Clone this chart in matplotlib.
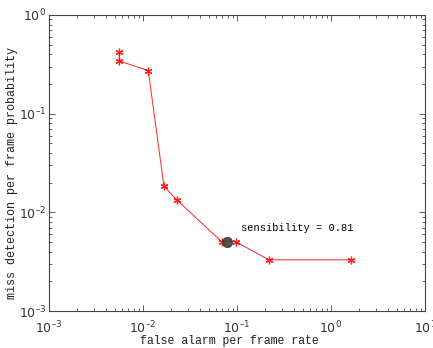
import matplotlib
matplotlib.use("Agg")
import matplotlib.pyplot as plt
from matplotlib.ticker import LogLocator, FixedLocator

false_alarm = [0.0056, 0.0056, 0.0114, 0.0167, 0.0228, 0.0687, 0.0968, 0.219, 1.63]
miss_detect = [0.42, 0.342, 0.273, 0.0185, 0.0134, 0.00505, 0.00505, 0.0033, 0.0033]
op_x = [0.0776]
op_y = [0.00505]
op_label = "sensibility = 0.81"
x_ticks = [1e-3, 1e-2, 1e-1, 1e0, 1e1]
x_ticklabels = ["$10^{\u20133}$", "$10^{\u20132}$", "$10^{\u20131}$", "$10^{0}$", "$10^{1}$"]
y_ticks = [1e-3, 1e-2, 1e-1, 1e0]
y_ticklabels = ["$10^{\u20133}$", "$10^{\u20132}$", "$10^{\u20131}$", "$10^{0}$"]

plt.rcParams['mathtext.fontset'] = 'custom'
plt.rcParams['mathtext.rm'] = 'Liberation Sans Narrow'
plt.rcParams['mathtext.it'] = 'Liberation Sans Narrow'
plt.rcParams['mathtext.sf'] = 'Liberation Sans Narrow'

fig = plt.figure(figsize=(4.33, 3.48), dpi=100)
ax = fig.add_axes([0.113, 0.1063, 0.8685, 0.8507])
ax.set_xscale('log')
ax.set_yscale('log')
ax.plot(false_alarm, miss_detect, color='#ff0000', lw=0.7, marker=(6, 2, 0), ms=5.5,
        markeredgewidth=0.9, alpha=0.85)
ax.plot(op_x, op_y, 'o', color='#404040', ms=7, alpha=0.9, zorder=3)
ax.text(0.11, 0.00695, op_label, family='Liberation Mono', fontsize=7.5, va='center')
ax.set_xlim(1e-3, 1e1)
ax.set_ylim(1e-3, 1e0)
ax.xaxis.set_major_locator(FixedLocator(x_ticks))
ax.set_xticklabels(x_ticklabels)
ax.yaxis.set_major_locator(FixedLocator(y_ticks))
ax.set_yticklabels(y_ticklabels)
ax.xaxis.set_minor_locator(LogLocator(base=10, subs=range(2, 10)))
ax.yaxis.set_minor_locator(LogLocator(base=10, subs=range(2, 10)))
ax.tick_params(which='both', direction='in', top=True, right=True, colors='#444444',
               labelcolor='#333333', labelsize=9)
ax.tick_params(axis='x', which='major', pad=6)
ax.tick_params(axis='y', which='major', pad=2)
ax.tick_params(which='major', length=4, width=0.6)
ax.tick_params(which='minor', length=2, width=0.6)
for s in ax.spines.values():
    s.set_color('#444444')
    s.set_linewidth(0.8)
ax.set_xlabel('false alarm per frame rate', family='Liberation Mono', fontsize=8.3, color='#222222')
ax.set_ylabel('miss detection per frame probability', family='Liberation Mono', fontsize=8.5, color='#222222')
ax.xaxis.set_label_coords((229 - 49) / 376, -(335 - 311) / 296)
ax.yaxis.set_label_coords(-(49 - 18) / 376, (311 - 173) / 296)
fig.savefig('out.png', dpi=100)
